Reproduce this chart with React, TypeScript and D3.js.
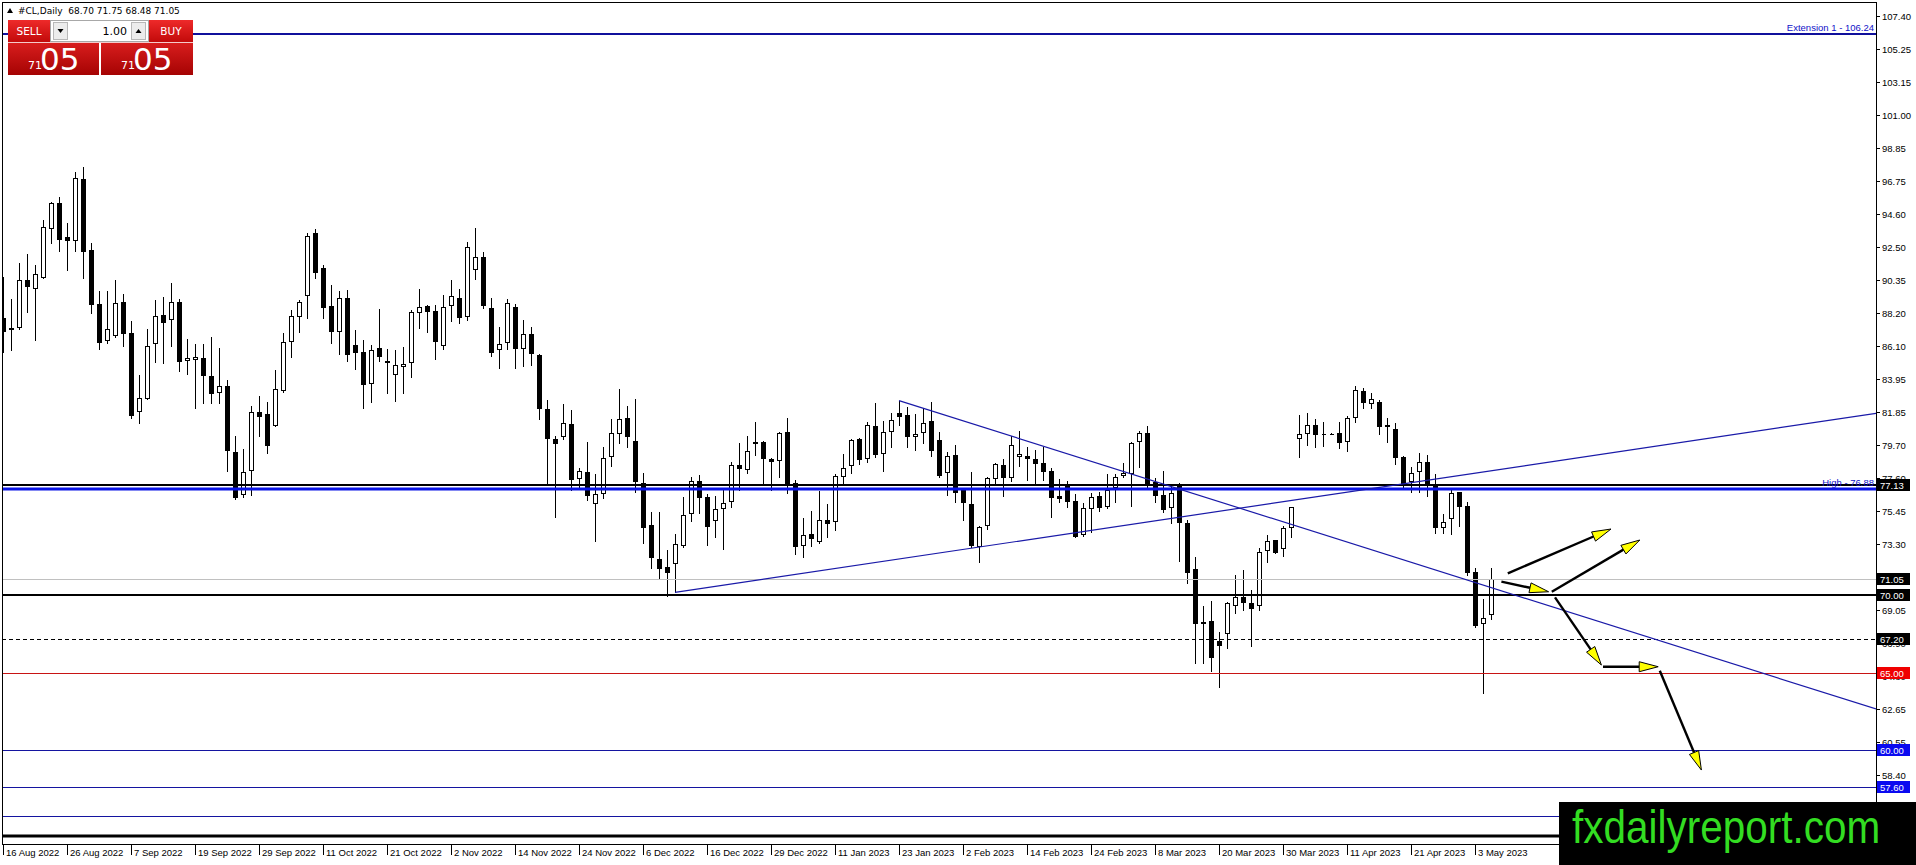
import React from 'react';
import * as d3 from 'd3';

const W = 1916;
const H = 865;

// ---------- data ----------
const opens = [87.88,87.11,87.28,90.36,89.75,90.51,93.67,95.33,93.11,92.90,96.88,92.29,88.81,86.44,86.76,88.92,86.94,81.86,82.70,86.20,88.10,87.75,88.92,85.11,85.17,85.30,84.14,83.04,83.49,79.23,76.48,78.05,81.86,81.68,80.95,83.17,86.33,87.95,89.30,93.37,91.11,88.68,87.02,89.17,86.16,85.71,83.62,85.95,84.98,84.20,84.76,84.98,88.21,88.68,88.36,86.07,88.68,89.17,87.95,90.98,91.82,88.53,85.84,86.30,88.60,85.90,86.90,85.50,82.01,80.07,80.20,81.06,77.49,77.94,75.87,76.52,78.95,80.39,81.43,79.96,77.27,74.54,72.32,71.81,72.00,73.20,75.23,77.40,76.37,74.82,75.55,76.05,78.41,78.09,79.92,79.92,78.80,78.69,80.56,77.23,73.20,73.96,73.42,74.86,74.75,77.66,78.35,80.11,78.80,80.95,79.10,80.52,81.75,81.64,80.24,80.46,81.25,80.03,77.87,79.06,76.80,75.89,73.14,74.50,77.49,78.41,77.59,78.91,79.01,78.80,78.52,78.03,76.41,77.06,76.09,73.89,75.55,76.41,75.72,76.91,77.72,77.83,79.88,80.46,77.34,76.48,75.61,77.12,74.65,71.68,68.26,68.34,67.05,67.48,69.33,69.91,69.48,69.33,72.86,73.57,72.97,74.32,80.07,80.39,80.97,80.44,80.43,80.50,79.88,81.43,83.19,82.33,82.46,81.00,80.72,78.91,77.34,77.94,78.63,77.06,74.32,74.90,76.65,75.77,71.53,68.15,68.70];
const highs = [90.57,89.13,91.48,92.04,91.33,94.23,95.41,95.74,94.06,97.33,97.67,92.72,89.65,89.65,90.36,89.45,87.69,84.22,87.19,89.07,89.28,90.14,89.13,86.53,86.23,86.20,86.66,85.95,83.90,80.29,79.43,82.24,82.89,82.50,84.55,86.91,88.42,89.07,93.37,93.65,91.33,90.03,89.65,89.71,87.13,86.48,86.16,88.48,85.88,85.84,86.03,88.42,89.78,88.74,88.74,89.39,90.36,89.75,92.79,93.69,92.14,89.17,87.35,89.10,88.80,87.80,87.30,85.60,82.61,80.28,82.35,81.96,78.20,79.92,77.81,79.60,81.36,83.32,82.22,82.67,77.87,75.40,75.40,72.92,73.96,76.37,77.66,77.77,76.54,76.41,76.80,78.63,79.85,80.28,81.21,79.95,78.85,80.56,81.47,77.44,74.97,75.44,76.73,75.89,77.81,79.12,80.11,80.15,81.21,82.39,81.27,81.79,82.57,82.18,81.70,82.07,82.50,80.52,79.27,79.70,76.88,77.94,74.50,77.66,78.56,78.80,80.28,80.63,79.60,79.38,79.60,78.20,77.51,77.40,76.52,75.94,76.63,76.65,77.81,77.81,78.52,79.88,80.61,80.93,77.59,78.03,77.16,77.23,74.86,72.49,69.31,69.63,67.65,69.59,71.31,71.63,70.34,73.03,73.89,73.60,74.47,75.72,81.64,81.75,81.36,81.21,80.45,81.17,81.58,83.51,83.36,83.08,82.61,81.43,81.15,78.99,78.31,79.21,79.06,77.83,75.23,76.84,76.70,76.05,71.74,69.76,71.75];
const lows = [85.73,85.84,87.20,88.27,86.48,90.46,92.77,92.25,91.00,92.25,90.51,88.25,85.92,86.31,86.70,86.10,81.47,81.15,82.65,85.08,85.02,86.10,84.50,84.27,82.07,82.39,82.44,82.39,78.05,76.20,76.37,76.48,80.31,79.21,80.90,83.10,85.41,87.02,87.93,90.51,87.88,86.27,85.56,85.15,84.59,82.07,82.50,85.15,83.08,82.57,83.04,84.12,87.28,87.02,85.26,85.88,87.73,87.56,87.77,90.42,88.53,85.45,84.65,85.90,84.70,84.80,84.90,81.36,77.19,75.03,80.07,76.80,77.01,76.15,73.53,76.26,78.35,79.85,79.60,76.69,73.35,71.74,71.05,69.98,70.19,73.14,74.82,75.29,73.25,73.79,72.97,75.72,76.80,77.92,79.06,77.27,76.80,77.66,76.58,72.67,72.45,73.20,73.40,73.79,74.22,77.27,77.92,78.48,78.63,78.91,78.05,79.60,81.00,79.60,79.38,79.81,79.01,77.62,76.48,76.02,74.86,73.14,72.17,74.28,77.23,76.41,77.40,78.35,77.44,77.16,77.44,75.03,76.02,75.68,73.74,73.83,74.11,75.46,75.66,76.05,77.66,75.77,78.26,77.01,76.05,75.40,74.69,72.21,70.77,65.65,65.65,65.13,64.06,66.58,68.84,69.05,66.75,69.05,72.17,72.71,72.56,73.74,78.95,79.70,79.60,79.64,80.40,79.53,79.34,81.21,82.07,82.07,80.41,79.88,78.46,76.91,76.69,76.69,76.43,74.00,74.00,73.94,74.50,71.31,67.93,63.67,68.48];
const closes = [87.02,87.24,90.36,89.93,90.72,93.76,95.33,92.96,92.90,96.92,92.19,88.76,86.31,87.17,88.85,86.89,81.58,82.72,86.07,88.03,87.56,88.92,85.04,85.30,85.36,84.18,82.98,83.49,79.34,76.26,77.94,81.86,81.53,79.66,83.30,86.33,88.01,88.92,93.20,90.79,88.57,87.02,89.17,85.49,85.62,83.56,85.82,85.41,85.13,84.85,84.91,88.27,88.59,88.31,86.38,88.59,89.32,87.88,92.51,91.82,88.66,85.62,86.20,88.90,85.90,86.90,85.60,82.01,80.07,79.75,81.10,77.44,78.05,76.43,76.52,78.84,80.46,81.36,80.24,77.34,74.37,72.39,71.72,71.46,73.29,75.18,77.38,76.30,74.43,75.55,75.94,78.41,78.15,79.32,79.79,78.80,78.63,80.46,77.12,73.14,73.89,73.66,74.86,74.60,77.70,78.24,80.03,78.74,81.00,79.06,80.54,81.32,81.53,80.20,80.41,81.15,79.34,77.70,78.99,76.63,75.94,73.20,74.43,77.55,78.46,77.59,79.68,79.12,78.78,78.46,77.98,76.26,76.20,76.05,73.79,75.61,76.37,75.66,76.80,77.66,77.87,79.81,80.46,77.06,76.43,75.51,76.58,74.69,71.46,68.15,68.15,65.93,66.75,69.48,69.91,69.48,69.09,72.82,73.51,72.75,74.32,75.68,80.39,80.97,80.33,80.35,80.43,79.85,81.43,83.25,82.39,82.65,80.89,80.84,78.89,77.12,77.92,78.63,77.06,74.32,74.75,76.58,75.68,71.46,68.04,68.56,71.05];

const dateLabels = ['16 Aug 2022','26 Aug 2022','7 Sep 2022','19 Sep 2022','29 Sep 2022','11 Oct 2022','21 Oct 2022','2 Nov 2022','14 Nov 2022','24 Nov 2022','6 Dec 2022','16 Dec 2022','29 Dec 2022','11 Jan 2023','23 Jan 2023','2 Feb 2023','14 Feb 2023','24 Feb 2023','8 Mar 2023','20 Mar 2023','30 Mar 2023','11 Apr 2023','21 Apr 2023','3 May 2023'];
const barsPerLabel = 8;

const priceTicks = [107.40,105.25,103.15,101.00,98.85,96.75,94.60,92.50,90.35,88.20,86.10,83.95,81.85,79.70,77.60,75.45,73.30,69.05,66.90,64.80,62.65,60.55,58.40];

// horizontal levels
const extensionLevel = 106.24;
const blackLevels = [77.13, 70.00];
const highLevel = 76.88;
const bidLevel = 71.05;
const dashedLevel = 67.20;
const redLevel = 65.00;
const blueLevels = [60.00, 57.60, 55.75];
const bottomBlackLevel = 54.45;
const blackMarkers = [77.13, 71.05, 70.00, 67.20];
const blueMarkers = [60.00, 57.60];
const redMarkers = [65.00];

// trend lines: two anchors each (bar index, price)
const trendUpBars = [84, 180];
const trendUpPrices = [70.19, 77.58];
const trendDownBars = [112, 185];
const trendDownPrices = [82.57, 70.67];

// forecast arrows (bar index / price of tail and tip)
const arrowFromBar = [188.1, 193.6, 187.3, 194.0, 200.0, 207.1];
const arrowFromPrice = [71.42, 70.23, 70.88, 69.87, 65.39, 65.13];
const arrowToBar = [201.0, 204.6, 193.2, 199.8, 206.9, 212.3];
const arrowToPrice = [74.28, 73.57, 70.23, 65.50, 65.39, 58.72];

const header = '#CL,Daily  68.70 71.75 68.48 71.05';
const lotText = '1.00';
const bidBig = '05';
const bidSmall = '71';
const logoText = 'fxdailyreport.com';

// ---------- layout ----------
const plotLeft = 2;
const plotRight = 1876;
const plotTop = 2;
const plotBottom = 844;
const axisFont = "'Liberation Sans', Arial, sans-serif";

export default function App() {
  const x = d3.scaleLinear().domain([0, 186]).range([3, 1491]);
  const y = d3.scaleLinear().domain([58.40, 107.40]).range([775, 16]);
  const py = (p: number) => Math.round(y(p));

  const ray = (bars: number[], prices: number[]) => {
    const x1 = x(bars[0]), y1 = y(prices[0]);
    const x2 = x(bars[1]), y2 = y(prices[1]);
    const ye = y1 + ((y2 - y1) * (plotRight - x1)) / (x2 - x1);
    return d3.line()([[x1, y1], [plotRight, ye]]) || '';
  };

  const arrows = arrowFromBar.map((_, i) => {
    const x1 = x(arrowFromBar[i]), y1 = y(arrowFromPrice[i]);
    const x2 = x(arrowToBar[i]), y2 = y(arrowToPrice[i]);
    const dx = x2 - x1, dy = y2 - y1;
    const len = Math.hypot(dx, dy);
    const ux = dx / len, uy = dy / len;
    const hl = 19, hw = 5;
    const bx = x2 - ux * hl, by = y2 - uy * hl;
    const head = [[x2, y2], [bx - uy * hw, by + ux * hw], [bx + uy * hw, by - ux * hw]];
    return { x1, y1, bx, by, head };
  });

  const marker = (p: number, fill: string, key: string) => {
    const yy = py(p);
    return (
      <g key={key}>
        <rect x={1877} y={yy - 6} width={33} height={12} fill={fill} />
        <text x={1880} y={yy + 3.5} fontSize={9.5} fontFamily={axisFont} fill="#fff">{p.toFixed(2)}</text>
      </g>
    );
  };

  return (
    <div style={{ position: 'absolute', left: 0, top: 0, width: W, height: H, overflow: 'hidden', background: '#fff' }}>
      <svg width={W} height={H} viewBox={`0 0 ${W} ${H}`} style={{ display: 'block' }}>
        <defs>
          <linearGradient id="btnRed" x1="0" y1="0" x2="0" y2="1">
            <stop offset="0" stopColor="#ee2a2a" />
            <stop offset="1" stopColor="#c20a0a" />
          </linearGradient>
          <linearGradient id="boxRed" x1="0" y1="0" x2="0" y2="1">
            <stop offset="0" stopColor="#d81d1d" />
            <stop offset="1" stopColor="#a50303" />
          </linearGradient>
          <clipPath id="plotClip">
            <rect x={plotLeft} y={plotTop} width={plotRight - plotLeft} height={plotBottom - plotTop} />
          </clipPath>
        </defs>
        <rect x={0} y={0} width={W} height={H} fill="#fff" />

        {/* candles */}
        <g clipPath="url(#plotClip)" shapeRendering="crispEdges">
          {opens.map((o, i) => {
            const cx = Math.round(x(i));
            const c = closes[i];
            const up = c >= o;
            const yTop = py(Math.max(o, c));
            const yBot = py(Math.min(o, c));
            const h = Math.max(yBot - yTop - 1, 0);
            return (
              <g key={i}>
                <line x1={cx + 0.5} x2={cx + 0.5} y1={py(highs[i])} y2={py(lows[i]) + 1} stroke="#000" strokeWidth={1} />
                <path d={`M${cx - 1.5},${yTop + 0.5}h4v${h}h-4z`} fill={up ? '#fff' : '#000'} stroke="#000" strokeWidth={1} />
              </g>
            );
          })}
        </g>

        {/* horizontal levels */}
        <g clipPath="url(#plotClip)">
          <line x1={plotLeft} x2={plotRight} y1={py(extensionLevel)} y2={py(extensionLevel)} stroke="#10109c" strokeWidth={2} />
          <line x1={plotLeft} x2={plotRight} y1={py(bidLevel) + 0.5} y2={py(bidLevel) + 0.5} stroke="#c0c0c0" strokeWidth={1} />
          {blackLevels.map((p) => (
            <line key={p} x1={plotLeft} x2={plotRight} y1={py(p)} y2={py(p)} stroke="#000" strokeWidth={2.2} />
          ))}
          <line x1={plotLeft} x2={plotRight} y1={py(highLevel)} y2={py(highLevel)} stroke="#0a14e6" strokeWidth={3} />
          <line x1={plotLeft} x2={plotRight} y1={py(dashedLevel) + 0.5} y2={py(dashedLevel) + 0.5} stroke="#000" strokeWidth={1} strokeDasharray="4,3" />
          <line x1={plotLeft} x2={plotRight} y1={py(redLevel) + 0.5} y2={py(redLevel) + 0.5} stroke="#c81414" strokeWidth={1.2} />
          {blueLevels.map((p) => (
            <line key={p} x1={plotLeft} x2={plotRight} y1={py(p) + 0.5} y2={py(p) + 0.5} stroke="#1414a0" strokeWidth={1.2} />
          ))}
          <line x1={plotLeft} x2={plotRight} y1={py(bottomBlackLevel)} y2={py(bottomBlackLevel)} stroke="#000" strokeWidth={3} />

          {/* trend lines */}
          <path d={ray(trendUpBars, trendUpPrices)} stroke="#1a1aa8" strokeWidth={1.2} fill="none" />
          <path d={ray(trendDownBars, trendDownPrices)} stroke="#1a1aa8" strokeWidth={1.2} fill="none" />

          {/* arrows */}
          {arrows.map((a, i) => (
            <g key={i}>
              <line x1={a.x1} y1={a.y1} x2={a.bx} y2={a.by} stroke="#000" strokeWidth={2.4} />
              <polygon points={a.head.map((p) => p.join(',')).join(' ')} fill="#ffff00" stroke="#000" strokeWidth={1} strokeLinejoin="round" />
            </g>
          ))}
        </g>

        {/* object labels */}
        <text x={1874} y={py(extensionLevel) - 3} textAnchor="end" fontSize={9.5} fontFamily={axisFont} fill="#1010c8">{`Extension 1 - ${extensionLevel.toFixed(2)}`}</text>
        <text x={1874} y={py(highLevel) - 3} textAnchor="end" fontSize={9.5} fontFamily={axisFont} fill="#1010c8">{`High - ${highLevel.toFixed(2)}`}</text>

        {/* frame */}
        <g shapeRendering="crispEdges" stroke="#000" strokeWidth={1}>
          <line x1={plotLeft + 0.5} x2={plotLeft + 0.5} y1={plotTop} y2={plotBottom} />
          <line x1={plotLeft} x2={plotRight} y1={plotTop + 0.5} y2={plotTop + 0.5} />
          <line x1={plotLeft} x2={plotRight} y1={plotBottom + 0.5} y2={plotBottom + 0.5} />
          <line x1={plotRight + 0.5} x2={plotRight + 0.5} y1={plotTop} y2={H} />
        </g>

        {/* price axis */}
        <g>
          {priceTicks.map((t) => (
            <g key={t}>
              <line x1={plotRight} x2={plotRight + 4} y1={py(t) + 0.5} y2={py(t) + 0.5} stroke="#000" shapeRendering="crispEdges" />
              <text x={1882} y={py(t) + 3.5} fontSize={9.5} fontFamily={axisFont} fill="#000">{t.toFixed(2)}</text>
            </g>
          ))}
          {blackMarkers.map((p) => marker(p, '#000', 'b' + p))}
          {redMarkers.map((p) => marker(p, '#f00000', 'r' + p))}
          {blueMarkers.map((p) => marker(p, '#0a0af0', 'u' + p))}
        </g>

        {/* time axis */}
        <g>
          {dateLabels.map((d, k) => {
            const xx = Math.round(x(k * barsPerLabel));
            return (
              <g key={d}>
                <line x1={xx + 0.5} x2={xx + 0.5} y1={plotBottom + 1} y2={plotBottom + 11} stroke="#000" shapeRendering="crispEdges" />
                <text x={xx + 3} y={plotBottom + 12} fontSize={9.5} fontFamily={axisFont} fill="#000">{d}</text>
              </g>
            );
          })}
        </g>

        {/* header */}
        <path d="M7,13 L10,8 L13,13 Z" fill="#000" />
        <text x={18} y={14} fontSize={9} fontFamily="'DejaVu Sans', sans-serif" fill="#000" style={{ whiteSpace: 'pre' }}>{header}</text>

        {/* one-click trading panel */}
        <g>
          <rect x={8} y={20} width={42} height={22} fill="url(#btnRed)" />
          <text x={29} y={35} textAnchor="middle" fontSize={10.5} fontFamily="'DejaVu Sans', sans-serif" fill="#fff">SELL</text>
          <rect x={50.5} y={20.5} width={98} height={21} fill="#fff" stroke="#a8a8a8" />
          <rect x={53.5} y={22.5} width={14} height={17} fill="#ececec" stroke="#b8b8b8" />
          <path d="M57.5,29 L63.5,29 L60.5,33 Z" fill="#000" />
          <rect x={131.5} y={22.5} width={14} height={17} fill="#ececec" stroke="#b8b8b8" />
          <path d="M135.5,33 L141.5,33 L138.5,29 Z" fill="#000" />
          <text x={127} y={35} textAnchor="end" fontSize={11} fontFamily="'DejaVu Sans', sans-serif" fill="#000">{lotText}</text>
          <rect x={149} y={20} width={44} height={22} fill="url(#btnRed)" />
          <text x={171} y={35} textAnchor="middle" fontSize={10.5} fontFamily="'DejaVu Sans', sans-serif" fill="#fff">BUY</text>
          <rect x={8} y={43} width={91} height={32} fill="url(#boxRed)" />
          <rect x={101} y={43} width={92} height={32} fill="url(#boxRed)" />
          <line x1={8} x2={193} y1={42.5} y2={42.5} stroke="#f4caca" />
          <text x={28} y={69} fontSize={11} fontFamily="'DejaVu Sans', sans-serif" fill="#fff">{bidSmall}</text>
          <text x={40} y={70} fontSize={31} fontFamily="'DejaVu Sans', sans-serif" fill="#fff">{bidBig}</text>
          <text x={121} y={69} fontSize={11} fontFamily="'DejaVu Sans', sans-serif" fill="#fff">{bidSmall}</text>
          <text x={133} y={70} fontSize={31} fontFamily="'DejaVu Sans', sans-serif" fill="#fff">{bidBig}</text>
        </g>

        {/* watermark logo */}
        <rect x={1559} y={802} width={W - 1559} height={H - 802} fill="#000" />
        <text transform="translate(1572,843) scale(0.88,1)" x={0} y={0} fontSize={46} fontFamily="'Liberation Sans', Arial, sans-serif" fill="#33dd22">{logoText}</text>
      </svg>
    </div>
  );
}
